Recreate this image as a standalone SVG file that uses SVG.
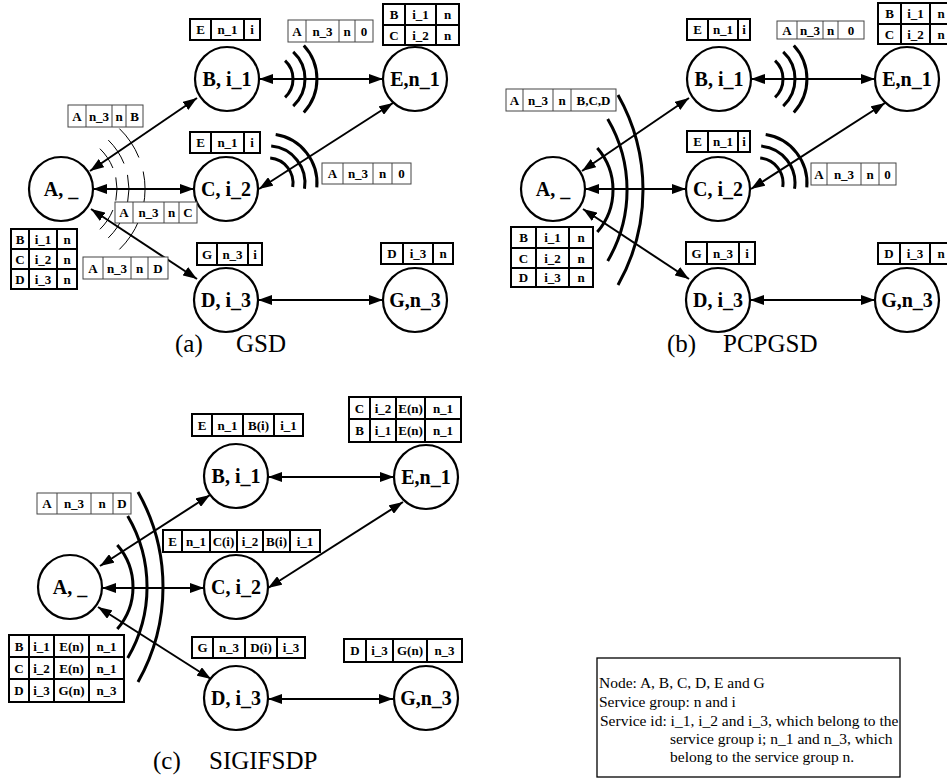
<svg xmlns="http://www.w3.org/2000/svg" width="947" height="780" viewBox="0 0 947 780">
<style>
.bg{fill:#fff}
.node circle{fill:#fff;stroke:#000;stroke-width:2.2}
.node text{font-family:"Liberation Serif",serif;font-weight:bold;font-size:20px;text-anchor:middle;fill:#000}
.edge{stroke:#000;stroke-width:2;fill:none;marker-start:url(#ah);marker-end:url(#ah)}
.tk rect,.tk line{fill:#fff;stroke:#000;stroke-width:2}
.tk line{fill:none}
.tn rect,.tn line{fill:#fff;stroke:#444;stroke-width:1}
.tn line{fill:none}
.tk text,.tn text{font-family:"Liberation Serif",serif;font-weight:bold;font-size:13px;text-anchor:middle;fill:#000}
.wave{fill:none;stroke:#000;stroke-width:1}
.wavek{fill:none;stroke:#000;stroke-width:3}
.cap{font-family:"Liberation Serif",serif;font-size:25px;fill:#000}
.leg{font-family:"Liberation Serif",serif;font-size:15.5px;fill:#000}
</style>
<defs>
<marker id="ah" viewBox="0 0 14 10" refX="14" refY="5" markerWidth="14" markerHeight="10" markerUnits="userSpaceOnUse" orient="auto-start-reverse">
<path d="M0,0 L14,5 L0,10 z" fill="#000"/>
</marker>
</defs>
<rect class="bg" x="0" y="0" width="947" height="780"/>

<!-- ============ Panel (a) ============ -->
<g id="a-waves">
<path class="wave" d="M99.9,148.7 A56,56 0 0 1 112.9,168.0"/>
<path class="wave" d="M108.3,140.1 A68,68 0 0 1 124.0,163.5"/>
<path class="wave" d="M119.4,128.6 A84,84 0 0 1 138.9,157.5"/>
<path class="wave" d="M115.8,177.4 A56,56 0 0 1 115.8,200.6"/>
<path class="wave" d="M127.5,174.9 A68,68 0 0 1 127.5,203.1"/>
<path class="wave" d="M143.2,171.5 A84,84 0 0 1 143.2,206.5"/>
<path class="wave" d="M112.9,210.0 A56,56 0 0 1 99.9,229.3"/>
<path class="wave" d="M124.0,214.5 A68,68 0 0 1 108.3,237.9"/>
<path class="wave" d="M138.9,220.5 A84,84 0 0 1 119.4,249.4"/>
<path class="wavek" d="M285.05,60.7 A25,25 0 0 1 285.05,97.3"/>
<path class="wavek" d="M293.2,51.9 A37,37 0 0 1 293.2,106.1"/>
<path class="wavek" d="M303.8,45.6 A49,49 0 0 1 303.8,112.4"/>
<path class="wavek" d="M270.2,158.1 A25,25 0 0 1 292.7,186.9"/>
<path class="wavek" d="M271.2,146.1 A37,37 0 0 1 304.5,188.8"/>
<path class="wavek" d="M275.7,134.6 A49,49 0 0 1 316.8,187.3"/>
</g>
<g id="a-edges">
<line class="edge" x1="90" y1="171" x2="197" y2="98"/>
<line class="edge" x1="93" y1="189" x2="194" y2="189"/>
<line class="edge" x1="91" y1="209" x2="197" y2="279"/>
<line class="edge" x1="259" y1="79" x2="383" y2="79"/>
<line class="edge" x1="259" y1="189" x2="393" y2="103"/>
<line class="edge" x1="258" y1="300" x2="383" y2="300"/>
</g>
<g id="a-A" class="node"><circle cx="61" cy="189" r="32"/><text x="61" y="196">A, _</text></g>
<g id="a-B" class="node"><circle cx="227" cy="79" r="32"/><text x="227" y="86">B, i_1</text></g>
<g id="a-C" class="node"><circle cx="226" cy="189" r="32"/><text x="226" y="196">C, i_2</text></g>
<g id="a-D" class="node"><circle cx="226" cy="300" r="32"/><text x="226" y="307">D, i_3</text></g>
<g id="a-E" class="node"><circle cx="415" cy="79" r="32"/><text x="415" y="86">E,n_1</text></g>
<g id="a-G" class="node"><circle cx="415" cy="300" r="32"/><text x="415" y="307">G,n_3</text></g>

<g id="a-t1" class="tk"><rect x="190" y="19" width="70" height="21"/><line x1="211" y1="19" x2="211" y2="40"/><line x1="244" y1="19" x2="244" y2="40"/>
<text x="200.5" y="34">E</text><text x="227.5" y="34">n_1</text><text x="252" y="34">i</text></g>
<g id="a-t2" class="tn"><rect x="288" y="20" width="85" height="22"/><line x1="306" y1="20" x2="306" y2="42"/><line x1="339" y1="20" x2="339" y2="42"/><line x1="355" y1="20" x2="355" y2="42"/>
<text x="297" y="35.5">A</text><text x="322.5" y="35.5">n_3</text><text x="347" y="35.5">n</text><text x="364" y="35.5">0</text></g>
<g id="a-t3" class="tk"><rect x="383" y="4" width="76" height="41"/><line x1="383" y1="25" x2="459" y2="25"/><line x1="405" y1="4" x2="405" y2="45"/><line x1="436" y1="4" x2="436" y2="45"/>
<text x="394" y="19">B</text><text x="420.5" y="19">i_1</text><text x="447.5" y="19">n</text>
<text x="394" y="39.5">C</text><text x="420.5" y="39.5">i_2</text><text x="447.5" y="39.5">n</text></g>
<g id="a-t4" class="tn"><rect x="68" y="105" width="75" height="22"/><line x1="86" y1="105" x2="86" y2="127"/><line x1="112" y1="105" x2="112" y2="127"/><line x1="126" y1="105" x2="126" y2="127"/>
<text x="77" y="120.5">A</text><text x="99" y="120.5">n_3</text><text x="119" y="120.5">n</text><text x="134.5" y="120.5">B</text></g>
<g id="a-t5" class="tk"><rect x="190" y="132" width="70" height="21"/><line x1="211" y1="132" x2="211" y2="153"/><line x1="244" y1="132" x2="244" y2="153"/>
<text x="200.5" y="147">E</text><text x="227.5" y="147">n_1</text><text x="252" y="147">i</text></g>
<g id="a-t6" class="tn"><rect x="322" y="163" width="89" height="21"/><line x1="343" y1="163" x2="343" y2="184"/><line x1="373" y1="163" x2="373" y2="184"/><line x1="392" y1="163" x2="392" y2="184"/>
<text x="332.5" y="178">A</text><text x="358" y="178">n_3</text><text x="382.5" y="178">n</text><text x="401.5" y="178">0</text></g>
<g id="a-t7" class="tn"><rect x="115" y="202" width="82" height="21"/><line x1="133" y1="202" x2="133" y2="223"/><line x1="164" y1="202" x2="164" y2="223"/><line x1="179" y1="202" x2="179" y2="223"/>
<text x="124" y="217">A</text><text x="148.5" y="217">n_3</text><text x="171.5" y="217">n</text><text x="188" y="217">C</text></g>
<g id="a-t8" class="tk"><rect x="11" y="229" width="66" height="60"/><line x1="11" y1="249" x2="77" y2="249"/><line x1="11" y1="269" x2="77" y2="269"/><line x1="29" y1="229" x2="29" y2="289"/><line x1="57" y1="229" x2="57" y2="289"/>
<text x="20" y="243.5">B</text><text x="43" y="243.5">i_1</text><text x="67" y="243.5">n</text>
<text x="20" y="263.5">C</text><text x="43" y="263.5">i_2</text><text x="67" y="263.5">n</text>
<text x="20" y="283.5">D</text><text x="43" y="283.5">i_3</text><text x="67" y="283.5">n</text></g>
<g id="a-t9" class="tn"><rect x="83" y="257" width="85" height="22"/><line x1="103" y1="257" x2="103" y2="279"/><line x1="131" y1="257" x2="131" y2="279"/><line x1="148" y1="257" x2="148" y2="279"/>
<text x="93" y="272.5">A</text><text x="117" y="272.5">n_3</text><text x="139.5" y="272.5">n</text><text x="158" y="272.5">D</text></g>
<g id="a-t10" class="tk"><rect x="197" y="243" width="65" height="22"/><line x1="217" y1="243" x2="217" y2="265"/><line x1="248" y1="243" x2="248" y2="265"/>
<text x="207" y="258.5">G</text><text x="232.5" y="258.5">n_3</text><text x="255" y="258.5">i</text></g>
<g id="a-t11" class="tk"><rect x="381" y="243" width="72" height="21"/><line x1="403" y1="243" x2="403" y2="264"/><line x1="433" y1="243" x2="433" y2="264"/>
<text x="392" y="258">D</text><text x="418" y="258">i_3</text><text x="443" y="258">n</text></g>
<text class="cap" x="175" y="352">(a)</text><text class="cap" x="236" y="352">GSD</text>

<!-- ============ Panel (b) ============ -->
<g id="b-waves">
<path class="wavek" d="M597.3,148 A64,64 0 0 1 597.3,232"/>
<path class="wavek" d="M607.7,119 A140,140 0 0 1 607.7,261"/>
<path class="wavek" d="M618,95 A193,193 0 0 1 618,285"/>
<path class="wavek" d="M775.05,60.7 A25,25 0 0 1 775.05,97.3"/>
<path class="wavek" d="M783.2,51.9 A37,37 0 0 1 783.2,106.1"/>
<path class="wavek" d="M793.8,45.6 A49,49 0 0 1 793.8,112.4"/>
<path class="wavek" d="M760.2,158.1 A25,25 0 0 1 782.7,186.9"/>
<path class="wavek" d="M761.2,146.1 A37,37 0 0 1 794.5,188.8"/>
<path class="wavek" d="M765.7,134.6 A49,49 0 0 1 806.8,187.3"/>
</g>
<g id="b-edges">
<line class="edge" x1="582" y1="171" x2="689" y2="98"/>
<line class="edge" x1="585" y1="189" x2="686" y2="189"/>
<line class="edge" x1="583" y1="209" x2="689" y2="279"/>
<line class="edge" x1="751" y1="79" x2="875" y2="79"/>
<line class="edge" x1="751" y1="189" x2="885" y2="103"/>
<line class="edge" x1="750" y1="300" x2="875" y2="300"/>
</g>
<g id="b-A" class="node"><circle cx="553" cy="189" r="32"/><text x="553" y="196">A, _</text></g>
<g id="b-B" class="node"><circle cx="719" cy="79" r="32"/><text x="719" y="86">B, i_1</text></g>
<g id="b-C" class="node"><circle cx="718" cy="189" r="32"/><text x="718" y="196">C, i_2</text></g>
<g id="b-D" class="node"><circle cx="718" cy="300" r="32"/><text x="718" y="307">D, i_3</text></g>
<g id="b-E" class="node"><circle cx="907" cy="79" r="32"/><text x="907" y="86">E,n_1</text></g>
<g id="b-G" class="node"><circle cx="907" cy="300" r="32"/><text x="907" y="307">G,n_3</text></g>

<g id="b-t1" class="tk"><rect x="687" y="19" width="63" height="21"/><line x1="708" y1="19" x2="708" y2="40"/><line x1="738" y1="19" x2="738" y2="40"/>
<text x="697.5" y="34">E</text><text x="723" y="34">n_1</text><text x="744" y="34">i</text></g>
<g id="b-t2" class="tn"><rect x="777" y="21" width="87" height="18"/><line x1="797" y1="21" x2="797" y2="39"/><line x1="823" y1="21" x2="823" y2="39"/><line x1="838" y1="21" x2="838" y2="39"/>
<text x="787" y="34.5">A</text><text x="810" y="34.5">n_3</text><text x="830.5" y="34.5">n</text><text x="851" y="34.5">0</text></g>
<g id="b-t3" class="tk"><rect x="878" y="3" width="74" height="41"/><line x1="878" y1="24" x2="952" y2="24"/><line x1="901" y1="3" x2="901" y2="44"/><line x1="930" y1="3" x2="930" y2="44"/>
<text x="889.5" y="18">B</text><text x="915.5" y="18">i_1</text><text x="941" y="18">n</text>
<text x="889.5" y="38.5">C</text><text x="915.5" y="38.5">i_2</text><text x="941" y="38.5">n</text></g>
<g id="b-t4" class="tn"><rect x="506" y="89" width="110" height="22"/><line x1="523" y1="89" x2="523" y2="111"/><line x1="553" y1="89" x2="553" y2="111"/><line x1="571" y1="89" x2="571" y2="111"/>
<text x="514.5" y="104.5">A</text><text x="538" y="104.5">n_3</text><text x="562" y="104.5">n</text><text x="593.5" y="104.5">B,C,D</text></g>
<g id="b-t5" class="tk"><rect x="687" y="131" width="63" height="21"/><line x1="708" y1="131" x2="708" y2="152"/><line x1="738" y1="131" x2="738" y2="152"/>
<text x="697.5" y="146">E</text><text x="723" y="146">n_1</text><text x="744" y="146">i</text></g>
<g id="b-t6" class="tn"><rect x="811" y="163" width="85" height="22"/><line x1="827" y1="163" x2="827" y2="185"/><line x1="861" y1="163" x2="861" y2="185"/><line x1="879" y1="163" x2="879" y2="185"/>
<text x="819" y="178.5">A</text><text x="844" y="178.5">n_3</text><text x="870" y="178.5">n</text><text x="887.5" y="178.5">0</text></g>
<g id="b-t7" class="tk"><rect x="511" y="227" width="82" height="60"/><line x1="511" y1="248" x2="593" y2="248"/><line x1="511" y1="268" x2="593" y2="268"/><line x1="536" y1="227" x2="536" y2="287"/><line x1="569" y1="227" x2="569" y2="287"/>
<text x="523.5" y="242">B</text><text x="552.5" y="242">i_1</text><text x="581" y="242">n</text>
<text x="523.5" y="262.5">C</text><text x="552.5" y="262.5">i_2</text><text x="581" y="262.5">n</text>
<text x="523.5" y="282">D</text><text x="552.5" y="282">i_3</text><text x="581" y="282">n</text></g>
<g id="b-t8" class="tk"><rect x="686" y="242" width="69" height="22"/><line x1="707" y1="242" x2="707" y2="264"/><line x1="739" y1="242" x2="739" y2="264"/>
<text x="696.5" y="257.5">G</text><text x="723" y="257.5">n_3</text><text x="747" y="257.5">i</text></g>
<g id="b-t9" class="tk"><rect x="878" y="243" width="74" height="21"/><line x1="900" y1="243" x2="900" y2="264"/><line x1="930" y1="243" x2="930" y2="264"/>
<text x="889" y="258">D</text><text x="915" y="258">i_3</text><text x="941" y="258">n</text></g>
<text class="cap" x="667" y="352">(b)</text><text class="cap" x="723" y="352">PCPGSD</text>

<!-- ============ Panel (c) ============ -->
<g id="c-waves">
<path class="wavek" d="M117.3,545 A64,64 0 0 1 117.3,629"/>
<path class="wavek" d="M127.7,516 A140,140 0 0 1 127.7,658"/>
<path class="wavek" d="M138,492 A193,193 0 0 1 138,682"/>
</g>
<g id="c-edges">
<line class="edge" x1="100" y1="566" x2="210" y2="495"/>
<line class="edge" x1="102" y1="588" x2="204" y2="588"/>
<line class="edge" x1="98" y1="607" x2="211" y2="679"/>
<line class="edge" x1="268" y1="477" x2="394" y2="477"/>
<line class="edge" x1="268" y1="588" x2="403" y2="502"/>
<line class="edge" x1="268" y1="699" x2="393" y2="699"/>
</g>
<g id="c-A" class="node"><circle cx="70" cy="587" r="32"/><text x="70" y="594">A, _</text></g>
<g id="c-B" class="node"><circle cx="236" cy="476" r="32"/><text x="236" y="483">B, i_1</text></g>
<g id="c-C" class="node"><circle cx="236" cy="587" r="32"/><text x="236" y="594">C, i_2</text></g>
<g id="c-D" class="node"><circle cx="236" cy="698" r="32"/><text x="236" y="705">D, i_3</text></g>
<g id="c-E" class="node"><circle cx="426" cy="477" r="32"/><text x="426" y="484">E,n_1</text></g>
<g id="c-G" class="node"><circle cx="426" cy="698" r="32"/><text x="426" y="705">G,n_3</text></g>

<g id="c-t1" class="tk"><rect x="192" y="414" width="111" height="22"/><line x1="212" y1="414" x2="212" y2="436"/><line x1="243" y1="414" x2="243" y2="436"/><line x1="274" y1="414" x2="274" y2="436"/>
<text x="202" y="429.5">E</text><text x="227.5" y="429.5">n_1</text><text x="258.5" y="429.5">B(i)</text><text x="288.5" y="429.5">i_1</text></g>
<g id="c-t2" class="tk"><rect x="349" y="397" width="112" height="45"/><line x1="349" y1="419" x2="461" y2="419"/><line x1="370" y1="397" x2="370" y2="442"/><line x1="396" y1="397" x2="396" y2="442"/><line x1="425" y1="397" x2="425" y2="442"/>
<text x="359.5" y="412.5">C</text><text x="383" y="412.5">i_2</text><text x="410.5" y="412.5">E(n)</text><text x="443" y="412.5">n_1</text>
<text x="359.5" y="435">B</text><text x="383" y="435">i_1</text><text x="410.5" y="435">E(n)</text><text x="443" y="435">n_1</text></g>
<g id="c-t3" class="tn"><rect x="37" y="493" width="94" height="21"/><line x1="57" y1="493" x2="57" y2="514"/><line x1="91" y1="493" x2="91" y2="514"/><line x1="113" y1="493" x2="113" y2="514"/>
<text x="47" y="508">A</text><text x="74" y="508">n_3</text><text x="102" y="508">n</text><text x="122" y="508">D</text></g>
<g id="c-t4" class="tk"><rect x="163" y="530" width="157" height="22"/><line x1="182" y1="530" x2="182" y2="552"/><line x1="210" y1="530" x2="210" y2="552"/><line x1="237" y1="530" x2="237" y2="552"/><line x1="263" y1="530" x2="263" y2="552"/><line x1="290" y1="530" x2="290" y2="552"/>
<text x="172.5" y="545.5">E</text><text x="196" y="545.5">n_1</text><text x="223.5" y="545.5">C(i)</text><text x="250" y="545.5">i_2</text><text x="276.5" y="545.5">B(i)</text><text x="305" y="545.5">i_1</text></g>
<g id="c-t5" class="tk"><rect x="192" y="637" width="113" height="21"/><line x1="213" y1="637" x2="213" y2="658"/><line x1="245" y1="637" x2="245" y2="658"/><line x1="277" y1="637" x2="277" y2="658"/>
<text x="202.5" y="652">G</text><text x="229" y="652">n_3</text><text x="261" y="652">D(i)</text><text x="291" y="652">i_3</text></g>
<g id="c-t6" class="tk"><rect x="344" y="639" width="118" height="23"/><line x1="366" y1="639" x2="366" y2="662"/><line x1="393" y1="639" x2="393" y2="662"/><line x1="427" y1="639" x2="427" y2="662"/>
<text x="355" y="655">D</text><text x="379.5" y="655">i_3</text><text x="410" y="655">G(n)</text><text x="444.5" y="655">n_3</text></g>
<g id="c-t7" class="tk"><rect x="9" y="635" width="115" height="67"/><line x1="9" y1="657" x2="124" y2="657"/><line x1="9" y1="679" x2="124" y2="679"/><line x1="29" y1="635" x2="29" y2="702"/><line x1="54" y1="635" x2="54" y2="702"/><line x1="89" y1="635" x2="89" y2="702"/>
<text x="19" y="650.5">B</text><text x="41.5" y="650.5">i_1</text><text x="71.5" y="650.5">E(n)</text><text x="106.5" y="650.5">n_1</text>
<text x="19" y="672.5">C</text><text x="41.5" y="672.5">i_2</text><text x="71.5" y="672.5">E(n)</text><text x="106.5" y="672.5">n_1</text>
<text x="19" y="695">D</text><text x="41.5" y="695">i_3</text><text x="71.5" y="695">G(n)</text><text x="106.5" y="695">n_3</text></g>
<text class="cap" x="153" y="769">(c)</text><text class="cap" x="209" y="769">SIGIFSDP</text>

<!-- ============ Legend ============ -->
<g id="legend">
<rect x="597" y="658" width="303" height="119" fill="#fff" stroke="#000" stroke-width="1.3"/>
<text class="leg" x="599" y="688">Node: A, B, C, D, E and G</text>
<text class="leg" x="599" y="707">Service group: n and i</text>
<text class="leg" x="600" y="726">Service id: i_1, i_2 and i_3, which belong to the</text>
<text class="leg" x="670" y="744">service group i; n_1 and n_3, which</text>
<text class="leg" x="670" y="762">belong to the service group n.</text>
</g>
</svg>
